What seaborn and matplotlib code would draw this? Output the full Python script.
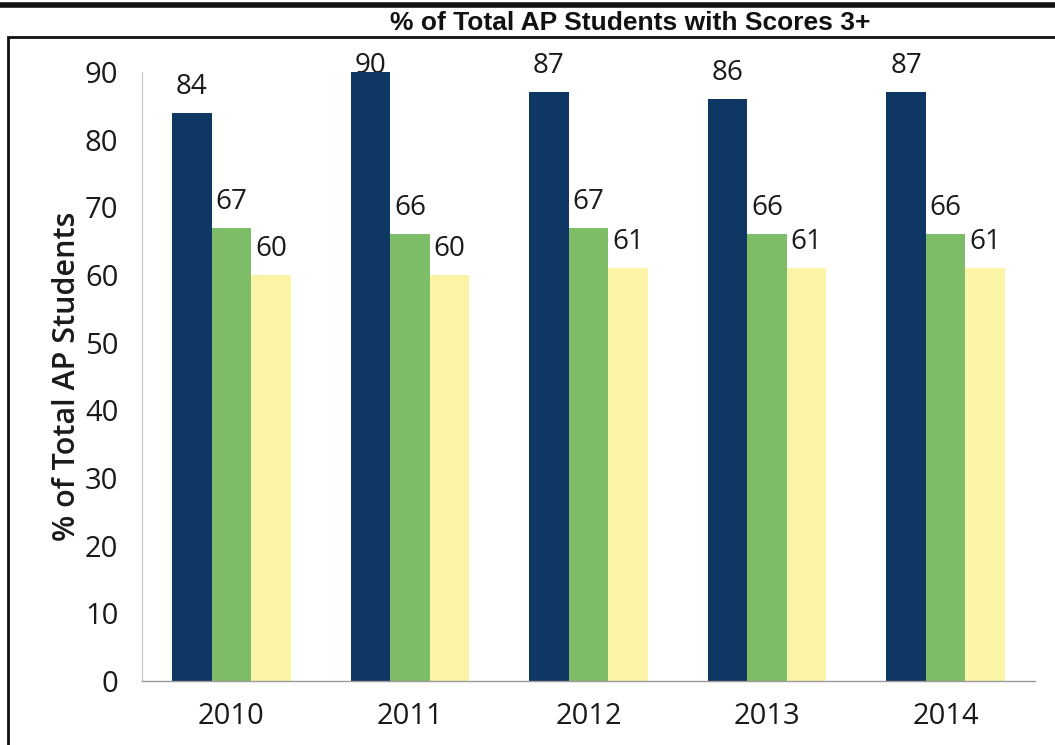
import matplotlib
matplotlib.use("Agg")
import matplotlib.pyplot as plt
import seaborn as sns
import pandas as pd
from matplotlib.patches import Rectangle
from matplotlib.lines import Line2D

years = ["2010", "2011", "2012", "2013", "2014"]
series_names = ["School", "State", "Global"]
school = [84, 90, 87, 86, 87]
state = [67, 66, 67, 66, 66]
global_ = [60, 60, 61, 61, 61]
colors = ["#0e3763", "#7dbd68", "#fbf4a6"]

rows = []
for name, vals in zip(series_names, [school, state, global_]):
    for y, v in zip(years, vals):
        rows.append({"Year": y, "Series": name, "Value": v})
df = pd.DataFrame(rows)

sns.set_style("white")
plt.rcParams["font.family"] = ["Open Sans", "DejaVu Sans"]

fig = plt.figure(figsize=(10.55, 7.45), dpi=100)
ax = fig.add_axes([142 / 1055, 0.0859, 893 / 1055, 0.8174])

sns.barplot(data=df, x="Year", y="Value", hue="Series", order=years,
            hue_order=series_names, palette=colors, width=0.665,
            saturation=1, legend=False, ax=ax, edgecolor="none", zorder=2)

ax.set_ylim(0, 90)
ax.set_xlim(-0.5, 4.5)
ax.set_yticks(range(0, 91, 10))
ax.tick_params(axis="both", labelsize=21, length=0, colors="#1a1a1a")
ax.tick_params(axis="x", pad=15)
ax.tick_params(axis="y", pad=17)
ax.set_xlabel("")
ax.set_ylabel("% of Total AP Students", fontsize=22, color="#1a1a1a",
              labelpad=2, fontweight="semibold")
for s in ["top", "right"]:
    ax.spines[s].set_visible(False)
ax.spines["bottom"].set_color("#9a9a9a")
ax.spines["bottom"].set_linewidth(1.0)
ax.spines["left"].set_color("#c4c4c4")
ax.spines["left"].set_linewidth(0.8)

# data labels (baseline ~19px above bar, kept inside the plot area top)
for cont in ax.containers:
    for bar in cont:
        h = bar.get_height()
        ax.text(bar.get_x() + bar.get_width() / 2, min(h + 2.8, 89.8),
                f"{h:.0f}", ha="center", va="baseline", fontsize=20,
                color="#1a1a1a", clip_on=False, zorder=1)

# outer frame and header line
fig.add_artist(Rectangle((8 / 1055, -0.01), 1.05, 1 - 37 / 745 + 0.01,
                         transform=fig.transFigure, fill=False,
                         edgecolor="#111111", linewidth=2.0))
fig.add_artist(Line2D([0, 1], [1 - 5 / 745, 1 - 5 / 745],
                      transform=fig.transFigure, color="#111111", linewidth=4))
fig.text(630 / 1055, 1 - 23 / 745, "% of Total AP Students with Scores 3+",
         ha="center", va="center", fontsize=19, fontweight="bold",
         family=["Liberation Sans Narrow", "Liberation Sans", "DejaVu Sans"],
         color="#111111")

fig.savefig("out.png", dpi=100)
